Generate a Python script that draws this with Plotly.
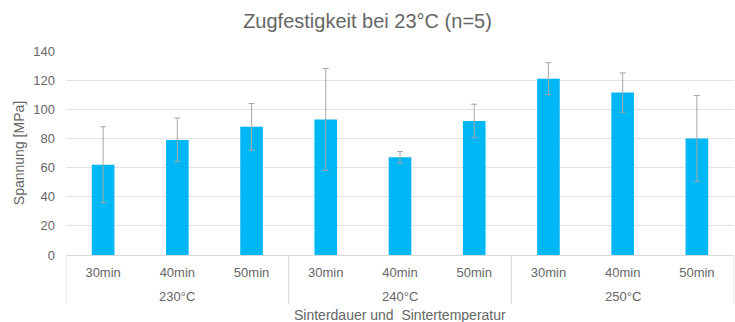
import plotly.graph_objects as go

# Sintering temperature groups and sintering durations
temperature_groups = ["230°C", "240°C", "250°C"]
durations = ["30min", "40min", "50min"] * 3

# Mean tensile strength [MPa] and standard deviation (n=5)
strength = [62, 79, 88, 93, 67, 92, 121, 111.5, 80]
std_dev = [26, 15, 16, 35, 4, 11.5, 11, 13.5, 29.5]

y_ticks = [0, 20, 40, 60, 80, 100, 120, 140]

text_color = "#666666"
grid_color = "#E3E3E3"
line_color = "#D9D9D9"
font_family = "Liberation Sans, Arial, sans-serif"

positions = list(range(len(durations)))
per_group = len(durations) // len(temperature_groups)

fig = go.Figure(
    go.Bar(
        x=positions,
        y=strength,
        width=0.305,
        marker=dict(color="#00B7F5", line=dict(width=0)),
        error_y=dict(
            type="data",
            array=std_dev,
            visible=True,
            color="#A6A6A6",
            thickness=1,
            width=3,
        ),
    )
)

# Group dividers reaching down through both label rows
divider_x = [g * per_group - 0.5 for g in range(len(temperature_groups) + 1)]
shapes = [
    dict(
        type="line",
        xref="x",
        yref="paper",
        x0=xv,
        x1=xv,
        y0=0,
        y1=-0.24,
        line=dict(color=line_color, width=1),
    )
    for xv in divider_x
]

# Temperature labels centred under each group of durations
annotations = [
    dict(
        text=name,
        xref="x",
        yref="paper",
        x=g * per_group + (per_group - 1) / 2,
        y=-0.203,
        xanchor="center",
        yanchor="middle",
        showarrow=False,
        font=dict(size=13, color=text_color),
    )
    for g, name in enumerate(temperature_groups)
]
annotations.append(
    dict(
        text="Sinterdauer und  Sintertemperatur",
        xref="paper",
        yref="paper",
        x=0.5,
        y=-0.292,
        xanchor="center",
        yanchor="middle",
        showarrow=False,
        font=dict(size=14, color=text_color),
    )
)

fig.update_layout(
    width=735,
    height=322,
    margin=dict(l=66, r=1, t=51, b=67),
    paper_bgcolor="white",
    plot_bgcolor="white",
    showlegend=False,
    font=dict(family=font_family, color=text_color, size=13),
    shapes=shapes,
    annotations=annotations,
    title=dict(
        text="Zugfestigkeit bei 23°C (n=5)",
        x=0.5,
        xref="container",
        xanchor="center",
        y=0.935,
        yref="container",
        yanchor="middle",
        font=dict(size=20, color=text_color, family=font_family),
    ),
)

fig.update_xaxes(
    range=[-0.5, len(durations) - 0.5],
    tickvals=positions,
    ticktext=durations,
    showline=True,
    linecolor=line_color,
    linewidth=1,
    showgrid=False,
    zeroline=False,
    ticks="",
    ticklabelstandoff=5,
    tickfont=dict(size=13, color=text_color),
)

fig.update_yaxes(
    range=[0, 140],
    tickvals=y_ticks,
    showgrid=True,
    gridcolor=grid_color,
    gridwidth=1,
    zeroline=False,
    showline=False,
    ticks="",
    ticklabelstandoff=10,
    tickfont=dict(size=13, color=text_color),
    title=dict(
        text="Spannung [MPa]",
        font=dict(size=14, color=text_color),
        standoff=5,
    ),
)

fig.write_html("out.html")
